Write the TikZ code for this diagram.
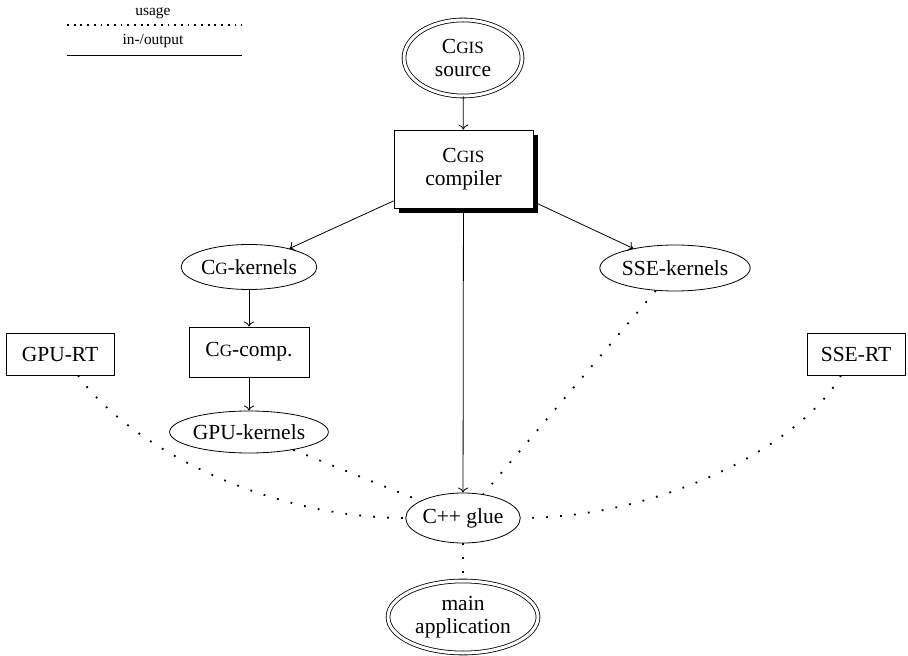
\documentclass[tikz,border=0pt]{standalone}
\usepackage{fontspec}
\setmainfont{Liberation Serif}
\usepackage{tikz}
\usetikzlibrary{arrows.meta, shapes.geometric, shadows}

\newcommand{\smallcap}[1]{{\fontsize{8.6}{10}\selectfont #1}}
\newcommand{\cgis}{C\smallcap{GIS}}
\newcommand{\cgname}{C\smallcap{G}}

\begin{document}
\begin{tikzpicture}[
        x=0.5pt, y=-0.5pt,
        font=\fontsize{10.75}{11.5}\selectfont,
        every node/.style={inner sep=0pt, align=center},
        datafile/.style={ellipse, draw=black, double, double distance=1.5pt, text centered},
        kernel/.style={ellipse, draw=black, text centered},
        tool/.style={rectangle, draw=black, fill=white, text centered},
        mainbox/.style={rectangle, draw=black, fill=white, text centered, drop shadow={shadow xshift=2.5pt, shadow yshift=-2.5pt, fill=black, opacity=1}},
        arrow/.style={-{To[length=2.5pt, width=5pt]}},
        uses/.style={line width=0.9pt, dash pattern=on 0.9pt off 6.1pt},
        legenddots/.style={line width=0.9pt, dash pattern=on 0.9pt off 2.45pt},
        legendtext/.style={font=\fontsize{7.7}{9}\selectfont}
    ]
        \useasboundingbox (0,0) rectangle (908,656);

        % Legend
        \node[legendtext] (lusage) at (153,13) {usage};
        \node[legendtext] (lio) at (153,41) {in-/output};
        \coordinate (usageL) at (67,25);
        \coordinate (usageR) at (242,25);
        \coordinate (ioL) at (67,55);
        \coordinate (ioR) at (242,55);
        \draw[legenddots] (usageL) -- (usageR);
        \draw (ioL) -- (ioR);

        % Nodes
        \node[datafile, minimum width=59pt, minimum height=38pt] (src) at (463,58) {\cgis\\source};
        \node[mainbox, minimum width=69.5pt, minimum height=39pt] (comp) at (463.5,169) {\cgis\\compiler};
        \node[kernel, minimum width=65pt, minimum height=22.5pt] (cgk) at (249,267) {\cgname-kernels};
        \node[kernel, minimum width=69pt, minimum height=23pt] (ssek) at (675,268) {SSE-kernels};
        \node[tool, minimum width=60pt, minimum height=25pt] (cgc) at (249,352) {\cgname-comp.};
        \node[kernel, minimum width=72.5pt, minimum height=21pt] (gpuk) at (249,432) {GPU-kernels};
        \node[tool, minimum width=54pt, minimum height=21pt] (gpurt) at (60,354) {GPU-RT};
        \node[tool, minimum width=49pt, minimum height=21pt] (ssert) at (856,354) {SSE-RT};
        \node[kernel, minimum width=55pt, minimum height=25pt] (glue) at (463,518) {C++ glue};
        \node[datafile, minimum width=75pt, minimum height=36pt] (app) at (463,617) {main\\application};

        % Arrows
        \draw[arrow] (src) -- (comp);
        \draw[arrow] (comp) -- (cgk);
        \draw[arrow] (comp) -- (ssek);
        \draw[arrow] (comp) -- (glue);
        \draw[arrow] (cgk) -- (cgc);
        \draw[arrow] (cgc) -- (gpuk);

        % Usage
        \draw[uses] (gpuk) -- (glue);
        \draw[uses] (ssek) -- (glue);
        \draw[uses] (gpurt.-50) .. controls +(50,70) and +(-140,0) .. (glue.west);
        \draw[uses] (ssert.-125) .. controls +(-40,70) and +(140,0) .. (glue.east);
        \draw[uses] (glue) -- (app);
    \end{tikzpicture}
\end{document}
